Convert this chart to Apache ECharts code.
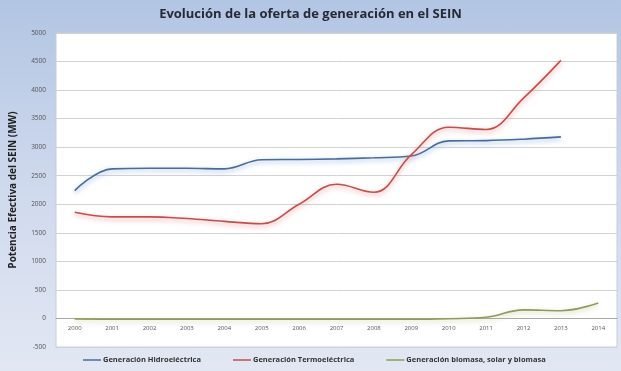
<!DOCTYPE html>
<html>
<head>
<meta charset="utf-8">
<script src="https://cdn.jsdelivr.net/npm/echarts@6/dist/echarts.min.js"></script>
<style>
  html, body { margin: 0; padding: 0; }
  #chart { width: 621px; height: 371px; background: linear-gradient(180deg, #b2c5e3 0%, #cfd9ed 50%, #e2e7f3 100%); }
</style>
</head>
<body>
<div id="chart"></div>
<script>
const years = ['2000', '2001', '2002', '2003', '2004', '2005', '2006', '2007', '2008', '2009', '2010', '2011', '2012', '2013', '2014'];
const hidro = [2240, 2620, 2630, 2630, 2620, 2780, 2785, 2795, 2815, 2845, 3110, 3115, 3140, 3180, null];
const termo = [1860, 1780, 1780, 1750, 1700, 1660, 2000, 2350, 2210, 2870, 3350, 3310, 3860, 4520, null];
const biomasa = [-10, -15, -15, -15, -15, -15, -15, -15, -15, -15, -5, 20, 150, 135, 270];

const seriesNames = ['Generación Hidroeléctrica', 'Generación Termoeléctrica', 'Generación biomasa, solar y biomasa'];

const chart = echarts.init(document.getElementById('chart'));

function lineSeries(name, data, color, glow) {
  return {
    name: name,
    type: 'line',
    data: data,
    smooth: 0.4,
    symbol: 'none',
    lineStyle: {
      color: color,
      width: 1.6,
      shadowColor: glow,
      shadowBlur: 5,
      shadowOffsetY: 2
    },
    itemStyle: { color: color }
  };
}

chart.setOption({
  animation: false,
  textStyle: { fontFamily: 'Open Sans' },
  title: {
    text: 'Evolución de la oferta de generación en el SEIN',
    left: 'center',
    top: 3,
    textStyle: { fontSize: 13, fontWeight: 'bold', color: '#262a35', fontFamily: 'Open Sans' }
  },
  legend: {
    bottom: 2,
    left: 78,
    itemWidth: 18,
    itemHeight: 1.5,
    itemGap: 32,
    icon: 'rect',
    textStyle: { fontSize: 7.5, color: '#333', fontWeight: 'bold', padding: [0, 0, 0, -3] },
    data: seriesNames
  },
  grid: {
    left: 52,
    right: 4,
    top: 33,
    bottom: 24,
    show: true,
    backgroundColor: '#ffffff',
    borderColor: '#c4ccda',
    borderWidth: 1
  },
  xAxis: {
    type: 'category',
    data: years,
    boundaryGap: true,
    axisLine: { onZero: true, lineStyle: { color: '#a8a8a8' } },
    axisTick: { show: false },
    axisLabel: { fontSize: 6, color: '#555', margin: -22 }
  },
  yAxis: {
    type: 'value',
    min: -500,
    max: 5000,
    interval: 500,
    name: 'Potencia Efectiva del SEIN (MW)',
    nameLocation: 'middle',
    nameGap: 38,
    nameTextStyle: { fontSize: 10, fontWeight: 'bold', color: '#222' },
    axisLine: { show: false },
    axisTick: { show: false },
    axisLabel: { fontSize: 6.5, color: '#555', margin: 10, formatter: function (v) { return String(v); } },
    splitLine: { lineStyle: { color: '#d2d2d2', width: 1 } }
  },
  series: [
    lineSeries(seriesNames[0], hidro, '#4a6c9b', 'rgba(120,160,220,0.8)'),
    lineSeries(seriesNames[1], termo, '#c0504d', 'rgba(240,130,130,0.8)'),
    lineSeries(seriesNames[2], biomasa, '#8f9b5a', 'rgba(180,190,120,0.7)')
  ]
});
</script>
</body>
</html>
